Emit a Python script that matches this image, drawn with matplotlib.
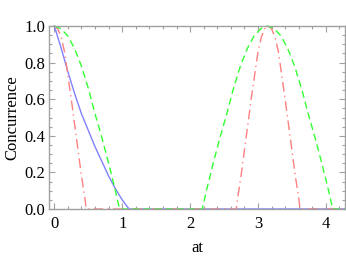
import matplotlib
matplotlib.use("Agg")
import matplotlib.pyplot as plt
from matplotlib.ticker import MultipleLocator
from matplotlib import font_manager

# Blue solid curve
blue_at = [0.0, 0.1, 0.2, 0.3, 0.4, 0.5, 0.6, 0.7, 0.8, 0.9, 1.0, 1.1, 4.3]
blue_c = [1.0, 0.88, 0.75, 0.63, 0.52, 0.43, 0.34, 0.26, 0.18, 0.11, 0.05, 0.0, 0.0]

# Red dash-dot curve
red_at = [0.0, 0.05, 0.1, 0.15, 0.2, 0.25, 0.3, 0.35, 0.4, 0.45, 0.47,
          2.68, 2.70, 2.75, 2.80, 2.85, 2.90, 2.95, 3.00, 3.05, 3.10, 3.15,
          3.20, 3.25, 3.30, 3.35, 3.40, 3.45, 3.50, 3.55, 3.60, 3.62, 4.3]
red_c = [1.0, 0.985, 0.94, 0.86, 0.73, 0.60, 0.46, 0.32, 0.18, 0.06, 0.0,
         0.0, 0.06, 0.18, 0.32, 0.46, 0.60, 0.73, 0.86, 0.94, 0.985, 1.0,
         0.985, 0.94, 0.86, 0.73, 0.60, 0.46, 0.32, 0.18, 0.06, 0.0, 0.0]

# Green dashed curve
green_at = [0.0, 0.1, 0.2, 0.3, 0.4, 0.5, 0.6, 0.7, 0.8, 0.9, 0.96,
            2.18, 2.24, 2.34, 2.44, 2.54, 2.64, 2.74, 2.84, 2.94, 3.04, 3.14,
            3.24, 3.34, 3.44, 3.54, 3.64, 3.74, 3.84, 3.94, 4.04, 4.10, 4.3]
green_c = [1.0, 0.985, 0.945, 0.875, 0.78, 0.66, 0.52, 0.39, 0.25, 0.10, 0.0,
           0.0, 0.10, 0.25, 0.39, 0.52, 0.66, 0.78, 0.875, 0.945, 0.985, 1.0,
           0.985, 0.945, 0.875, 0.78, 0.66, 0.52, 0.39, 0.25, 0.10, 0.0, 0.0]

x_ticks = [0, 1, 2, 3, 4]
y_ticks = [0.0, 0.2, 0.4, 0.6, 0.8, 1.0]

plt.rcParams['font.family'] = 'serif'
plt.rcParams['font.serif'] = ['Liberation Serif', 'Times New Roman', 'DejaVu Serif']
plt.rcParams['mathtext.fontset'] = 'stix'

fig = plt.figure(figsize=(3.46, 2.57), dpi=100)
ax = fig.add_axes([49.3/346, 1-209/257, 296/346, 183/257])

ax.plot(blue_at, blue_c, color='#8080ff', lw=1.0, clip_on=False)
ax.plot(red_at, red_c, color='#ff8080', lw=1.0, dashes=(7, 3, 1, 3), clip_on=False)
ax.plot(green_at, green_c, color='#33ff33', lw=1.0, dashes=(5, 3), clip_on=False)

ax.set_xlim(-0.074, 4.286)
ax.set_ylim(0, 1)
ax.set_xticks(x_ticks)
ax.set_yticks(y_ticks)
ax.set_xticklabels([str(v) for v in x_ticks])
ax.set_yticklabels([f"{v:.1f}" for v in y_ticks])
ax.xaxis.set_minor_locator(MultipleLocator(0.2))
ax.yaxis.set_minor_locator(MultipleLocator(0.05))

frame_col = '#a0a0a0'
for s in ax.spines.values():
    s.set_color(frame_col)
    s.set_linewidth(1.0)
ax.tick_params(which='both', direction='in', top=True, right=True,
               color=frame_col, width=0.8, labelsize=12, labelcolor='black')
ax.tick_params(which='major', length=4)
ax.tick_params(which='minor', length=2.3)
ax.tick_params(axis='x', pad=5)
ax.tick_params(axis='y', pad=3)
for lab in ax.get_xticklabels() + ax.get_yticklabels():
    lab.set_fontfamily('Liberation Serif')

ax.set_xlabel('at', fontsize=12, fontfamily='Liberation Serif')
ax.set_ylabel('Concurrence', fontsize=12, fontfamily='Liberation Serif')
ax.xaxis.set_label_coords(0.5, (209-248)/183)
ax.xaxis.label.set_va('center')
ax.yaxis.set_label_coords((12-49.3)/296, 0.5)
ax.yaxis.label.set_va('center')

fig.savefig('out.png', dpi=100)
